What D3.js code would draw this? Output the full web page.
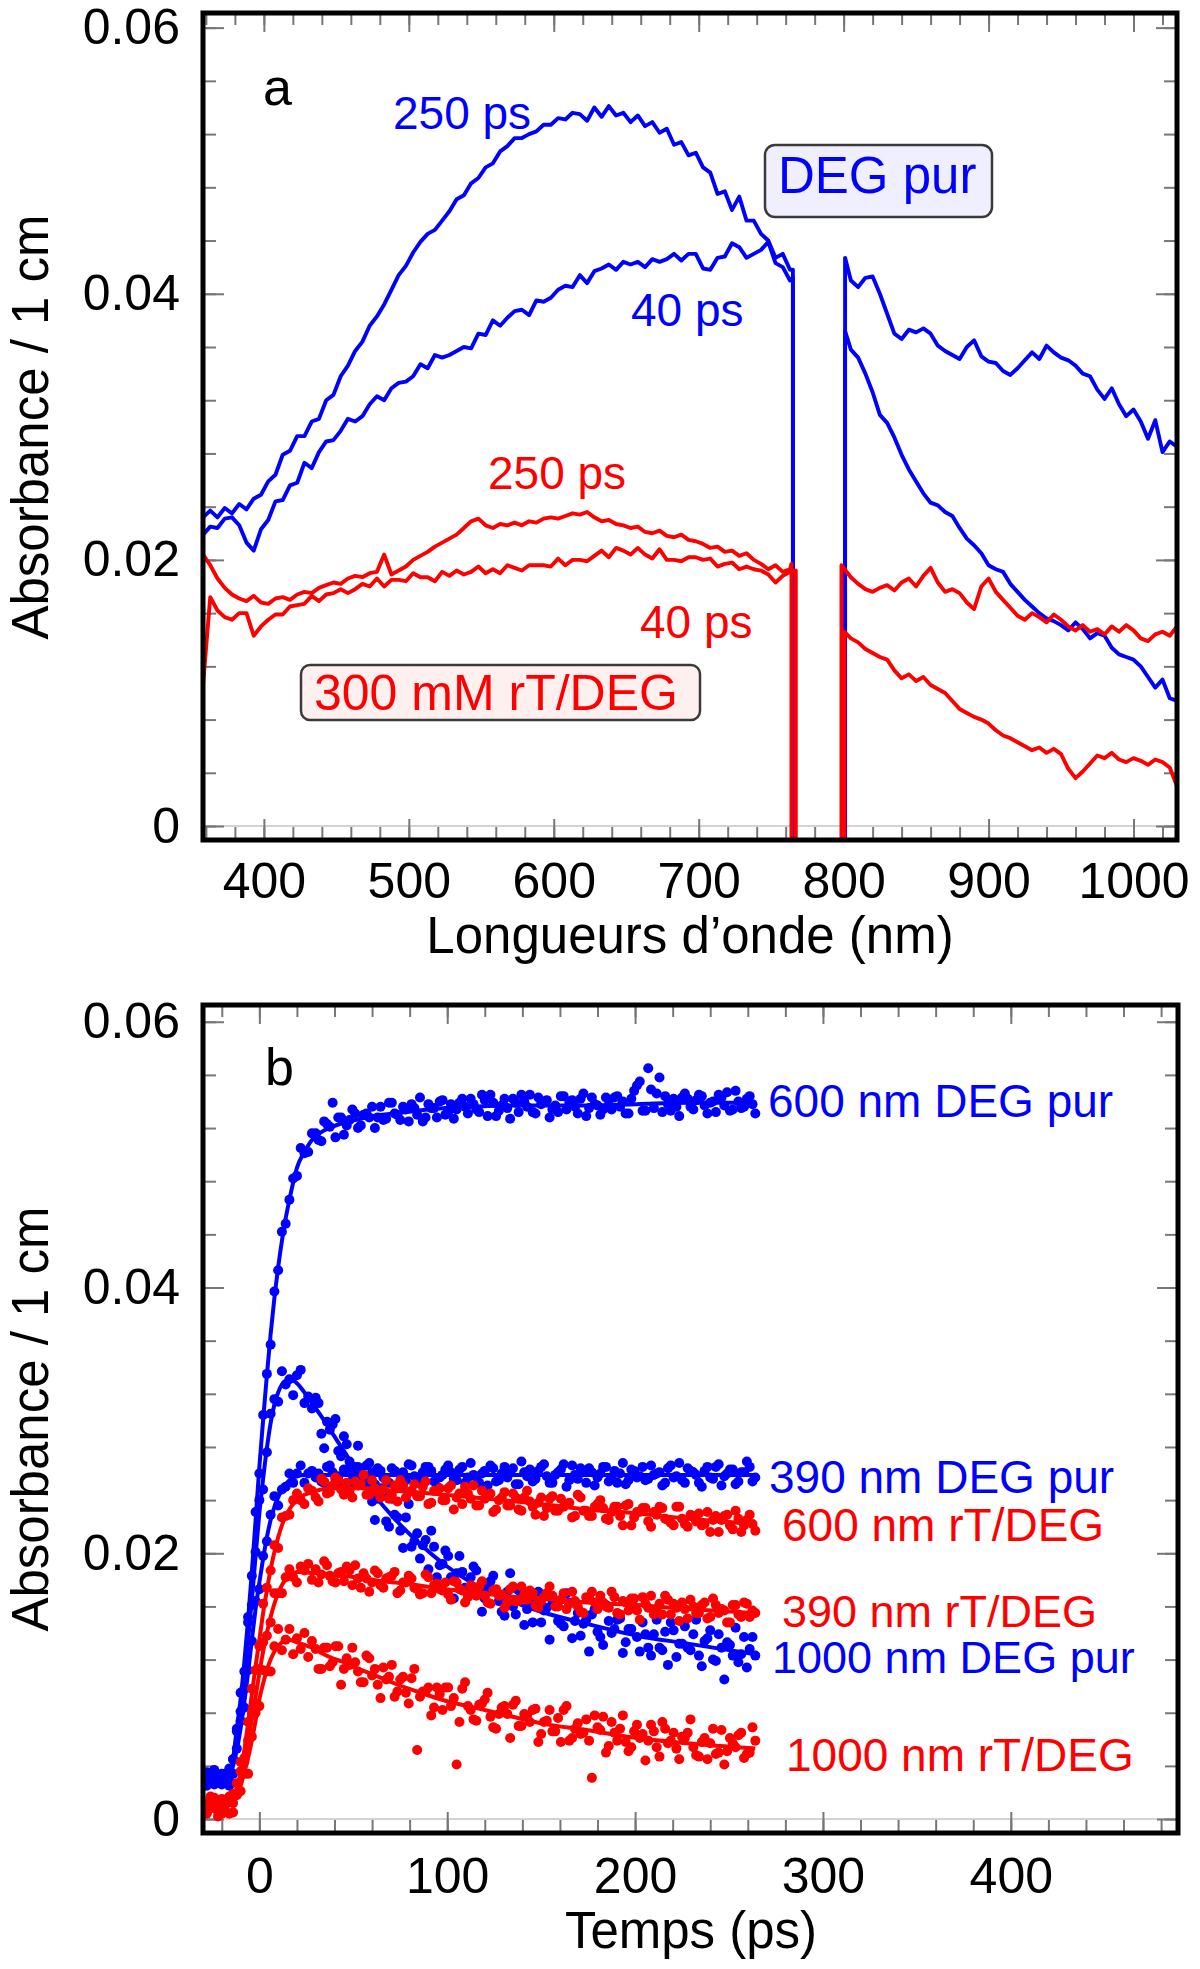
<!DOCTYPE html>
<html><head><meta charset="utf-8">
<script src="https://cdn.jsdelivr.net/npm/d3@7"></script>
<style>
html,body{margin:0;padding:0;background:#fff;}
svg{display:block;}
</style></head><body>
<script>
// ---------------- Panel a : spectra ----------------
const wlGridLeft = [358,363,368,373,378,383,388,393,398,403,408,413,418,423,428,433,438,443,448,453,458,463,468,473,478,483,488,493,498,503,508,513,518,523,528,533,538,543,548,553,558,563,568,573,578,583,588,593,598,603,608,613,618,623,628,633,638,643,648,653,658,663,668,673,678,683,688,693,698,703,708,713,718,723,728,733,738,743,748,753,758,763];
const wlGridRight = [805,810,815,820,825,830,835,840,845,850,855,860,865,870,875,880,885,890,895,900,905,910,915,920,925,930,935,940,945,950,955,960,965,970,975,980,985,990,995,1000,1005,1010,1015,1020,1025,1030];
// wavelengths where each trace leaves / re-enters (detector gap)
const gapBlue = [765, 801];
const gapRed250 = [764, 798.5];
const gapRed40 = [767, 800.5];

const blue250L = [.0232,.0237,.0232,.0239,.0235,.0242,.0238,.0246,.0249,.0259,.0264,.0279,.0282,.0293,.0293,.0304,.0306,.0320,.0324,.0338,.0346,.0357,.0364,.0376,.0383,.0392,.0403,.0414,.0421,.0431,.0439,.0445,.0448,.0455,.0462,.0471,.0474,.0483,.0487,.0495,.0498,.0507,.0511,.0517,.0517,.0520,.0522,.0527,.0527,.0532,.0531,.0536,.0535,.0530,.0540,.0533,.0541,.0534,.0536,.0529,.0534,.0526,.0529,.0521,.0524,.0512,.0514,.0504,.0506,.0495,.0491,.0475,.0477,.0463,.0473,.0455,.0455,.0445,.0440,.0427,.0430,.0418,.0418,-.003];
const blue40L = [.0219,.0225,.0224,.0231,.0232,.0226,.0213,.0207,.0223,.0230,.0244,.0245,.0256,.0258,.0273,.0269,.0281,.0289,.0290,.0297,.0306,.0304,.0308,.0317,.0323,.0320,.0329,.0333,.0334,.0338,.0347,.0344,.0354,.0352,.0354,.0357,.0360,.0359,.0370,.0369,.0380,.0376,.0382,.0387,.0388,.0384,.0395,.0394,.0397,.0403,.0406,.0405,.0414,.0408,.0417,.0419,.0422,.0418,.0424,.0422,.0424,.0420,.0426,.0424,.0426,.0430,.0425,.0430,.0430,.0419,.0418,.0427,.0428,.0438,.0435,.0427,.0430,.0433,.0439,.0423,.0420,.0410,.0412,-.003];
const red250L = [.0204,.0196,.0186,.0179,.0174,.0171,.0169,.0173,.0168,.0167,.0171,.0172,.0170,.0174,.0176,.0175,.0179,.0181,.0183,.0182,.0186,.0188,.0187,.0190,.0191,.0204,.0189,.0192,.0195,.0200,.0203,.0206,.0210,.0213,.0216,.0219,.0224,.0229,.0231,.0226,.0224,.0227,.0226,.0228,.0226,.0229,.0228,.0231,.0232,.0231,.0233,.0235,.0234,.0236,.0232,.0229,.0230,.0227,.0226,.0224,.0225,.0221,.0220,.0222,.0218,.0217,.0219,.0215,.0214,.0212,.0209,.0210,.0206,.0207,.0203,.0205,.0200,.0197,.0193,.0196,.0191,.0193,.0197,-.003];
const red40L = [.0106,.0172,.0162,.0157,.0155,.0160,.0160,.0143,.0150,.0155,.0159,.0159,.0165,.0166,.0167,.0173,.0169,.0174,.0175,.0178,.0175,.0178,.0182,.0180,.0186,.0180,.0185,.0185,.0184,.0190,.0187,.0187,.0184,.0191,.0188,.0192,.0189,.0191,.0195,.0190,.0193,.0190,.0196,.0194,.0192,.0196,.0196,.0196,.0195,.0201,.0196,.0200,.0200,.0199,.0203,.0207,.0202,.0209,.0207,.0204,.0209,.0204,.0201,.0208,.0200,.0200,.0199,.0202,.0202,.0200,.0201,.0195,.0197,.0198,.0193,.0195,.0193,.0192,.0189,.0183,.0188,.0191,.0192,-.003];

const blue250R = [-.003,.0427,.0410,.0405,.0412,.0413,.0400,.0385,.0370,.0366,.0373,.0371,.0374,.0370,.0361,.0357,.0354,.0351,.0360,.0365,.0353,.0349,.0348,.0342,.0339,.0344,.0350,.0356,.0351,.0361,.0356,.0352,.0350,.0346,.0340,.0338,.0328,.0321,.0329,.0317,.0308,.0313,.0304,.0291,.0305,.0281,.0289,.0285];
const blue40R = [-.003,.0372,.0358,.0352,.0340,.0326,.0309,.0303,.0292,.0279,.0268,.0259,.0250,.0243,.0241,.0236,.0233,.0224,.0216,.0211,.0205,.0196,.0193,.0191,.0182,.0176,.0170,.0165,.0160,.0156,.0154,.0151,.0147,.0153,.0148,.0141,.0145,.0143,.0134,.0129,.0127,.0125,.0120,.0112,.0104,.0110,.0096,.0094];
const red250R = [-.003,.0196,.0187,.0182,.0178,.0176,.0179,.0181,.0177,.0183,.0186,.0180,.0188,.0194,.0183,.0176,.0178,.0175,.0168,.0163,.0180,.0186,.0176,.0170,.0164,.0158,.0155,.0160,.0157,.0153,.0159,.0155,.0150,.0147,.0151,.0146,.0148,.0144,.0150,.0146,.0151,.0147,.0141,.0139,.0144,.0146,.0143,.0150];
const red40R = [-.003,.0146,.0141,.0138,.0133,.0130,.0127,.0125,.0117,.0111,.0114,.0109,.0112,.0106,.0103,.0100,.0094,.0088,.0085,.0082,.0080,.0077,.0072,.0068,.0066,.0063,.0060,.0057,.0059,.0055,.0058,.0054,.0043,.0036,.0041,.0047,.0053,.0051,.0055,.0050,.0048,.0051,.0049,.0046,.0050,.0048,.0044,.0030];

const xTicksA = [400,500,600,700,800,900,1000];
const yTicks = [0,0.02,0.04,0.06];
const xTicksB = [0,100,200,300,400];

// ---------------- Panel b : kinetics ----------------
const timePts = [-30,-28,-26,-24,-22,-20,-18,-16,-14,-12,-10,-8,-6,-4,-2,0,2,4,6,8,10,12,14,16,18,20,22,24,26,28,30,33,36,39,42,45,48,51,54,57,60,63,66,69,72,75,78,81,84,87,90,93,96,99,102,105,108,111,114,117,120,123,126,129,132,135,138,141,144,147,150,153,156,159,162,165,168,171,174,177,180,183,186,189,192,195,198,201,204,207,210,213,216,219,222,225,228,231,234,237,240,243,246,249,252,255,258,261,264];
const timePts2 = [31.5,34.5,37.5,40.5,43.5,46.5,49.5,52.5,55.5,58.5,61.5,64.5,67.5,70.5,73.5,76.5,79.5,82.5,85.5,88.5,91.5,94.5,97.5,100.5,103.5,106.5,109.5,112.5,115.5,118.5,121.5,124.5,127.5,130.5,133.5,136.5,139.5,142.5,145.5,148.5,151.5,154.5,157.5,160.5,163.5,166.5,169.5,172.5,175.5,178.5,181.5,184.5,187.5,190.5,193.5,196.5,199.5,202.5,205.5,208.5,211.5,214.5,217.5,220.5,223.5,226.5,229.5,232.5,235.5,238.5,241.5,244.5,247.5,250.5,253.5,256.5,259.5,262.5];

const pts600DEG = [.0032,.0035,.0028,.0037,.0030,.0026,.0033,.0038,.0045,.0068,.0095,.0111,.0152,.0183,.0231,.0260,.0304,.0335,.0357,.0397,.0413,.0442,.0448,.0466,.0482,.0484,.0505,.0501,.0502,.0516,.0516,
.0510,.0523,.0539,.0528,.0515,.0526,.0531,.0522,.0531,.0536,.0528,.0526,.0539,.0531,.0526,.0534,.0538,.0530,.0525,.0538,.0535,.0540,.0530,.0538,.0534,.0542,.0531,.0538,.0532,.0541,.0545,.0529,.0537,.0535,.0542,.0532,.0540,.0545,.0531,.0538,.0541,.0534,.0532,.0544,.0539,.0536,.0542,.0529,.0543,.0537,.0534,.0541,.0543,.0536,.0531,.0542,.0552,.0533,.0565,.0535,.0558,.0544,.0533,.0536,.0543,.0542,.0534,.0545,.0537,.0539,.0532,.0543,.0547,.0534,.0540,.0536,.0544,.0531];
const pts600DEG2 = [.0511,.0525,.0521,.0513,.0528,.0522,.0534,.0520,.0530,.0528,.0520,.0536,.0527,.0539,.0530,.0536,.0525,.0535,.0543,.0528,.0535,.0528,.0541,.0532,.0527,.0539,.0536,.0542,.0534,.0545,.0529,.0539,.0533,.0542,.0527,.0539,.0545,.0536,.0532,.0543,.0540,.0528,.0537,.0544,.0534,.0541,.0531,.0546,.0535,.0538,.0530,.0543,.0534,.0544,.0540,.0531,.0548,.0555,.0533,.0549,.0546,.0532,.0538,.0542,.0529,.0546,.0536,.0541,.0544,.0531,.0540,.0545,.0537,.0533,.0548,.0535,.0542,.0538];
const pts390DEG = [.0028,.0035,.0030,.0026,.0031,.0034,.0028,.0025,.0045,.0053,.0074,.0084,.0112,.0134,.0164,.0173,.0198,.0209,.0229,.0243,.0236,.0248,.0250,.0260,.0253,.0260,.0266,.0253,.0260,.0262,.0257,
.0254,.0265,.0261,.0258,.0263,.0252,.0265,.0259,.0256,.0261,.0264,.0257,.0253,.0262,.0260,.0255,.0266,.0257,.0261,.0265,.0254,.0257,.0263,.0261,.0255,.0265,.0257,.0259,.0253,.0262,.0266,.0254,.0260,.0257,.0264,.0252,.0261,.0263,.0256,.0265,.0258,.0253,.0261,.0267,.0255,.0259,.0264,.0253,.0261,.0257,.0265,.0254,.0262,.0260,.0252,.0263,.0257,.0265,.0256,.0259,.0261,.0253,.0266,.0258,.0255,.0264,.0261,.0253,.0262,.0257,.0265,.0251,.0260,.0263,.0254,.0261,.0265,.0257];
const pts390DEG2 = [.0260,.0253,.0266,.0256,.0251,.0263,.0259,.0265,.0257,.0268,.0252,.0262,.0255,.0264,.0249,.0261,.0267,.0258,.0254,.0265,.0262,.0250,.0259,.0266,.0256,.0263,.0253,.0268,.0257,.0260,.0251,.0264,.0255,.0265,.0261,.0252,.0269,.0258,.0254,.0262,.0267,.0253,.0259,.0263,.0250,.0266,.0256,.0261,.0264,.0251,.0260,.0265,.0257,.0253,.0268,.0255,.0262,.0258,.0255,.0266,.0260,.0251,.0264,.0257,.0268,.0253,.0262,.0259,.0250,.0265,.0256,.0267,.0258,.0263,.0252,.0261,.0269,.0254];
const pts1000DEG = [.0033,.0025,.0034,.0030,.0028,.0032,.0034,.0029,.0034,.0066,.0081,.0098,.0148,.0161,.0201,.0240,.0248,.0276,.0305,.0316,.0314,.0337,.0327,.0331,.0319,.0334,.0338,.0313,.0318,.0309,.0317,
.0290,.0299,.0297,.0277,.0288,.0269,.0254,.0262,.0266,.0239,.0241,.0244,.0220,.0229,.0217,.0227,.0205,.0215,.0206,.0188,.0205,.0191,.0202,.0182,.0185,.0186,.0170,.0190,.0174,.0166,.0179,.0172,.0156,.0171,.0160,.0172,.0146,.0160,.0164,.0148,.0159,.0164,.0149,.0145,.0163,.0149,.0138,.0150,.0154,.0141,.0131,.0149,.0143,.0151,.0133,.0143,.0137,.0148,.0129,.0139,.0129,.0141,.0148,.0122,.0132,.0129,.0139,.0123,.0134,.0142,.0119,.0129,.0133,.0123,.0118,.0137,.0128,.0123];
const pts1000DEG2 = [.0313,.0279,.0293,.0301,.0273,.0282,.0254,.0281,.0251,.0251,.0225,.0249,.0224,.0241,.0227,.0204,.0237,.0209,.0196,.0210,.0217,.0182,.0192,.0198,.0166,.0198,.0174,.0182,.0187,.0156,.0174,.0183,.0164,.0153,.0185,.0154,.0168,.0158,.0148,.0171,.0157,.0135,.0163,.0147,.0170,.0136,.0155,.0147,.0126,.0158,.0137,.0161,.0140,.0150,.0125,.0143,.0160,.0126,.0139,.0123,.0150,.0127,.0116,.0142,.0132,.0145,.0127,.0150,.0115,.0136,.0120,.0139,.0105,.0131,.0144,.0124,.0114,.0137];
const pts600rT = [.0010,.0005,.0012,.0016,.0002,.0008,.0006,.0013,.0012,.0027,.0043,.0046,.0073,.0098,.0112,.0130,.0162,.0174,.0187,.0206,.0204,.0227,.0228,.0229,.0240,.0245,.0240,.0237,.0249,.0247,.0242,
.0256,.0245,.0251,.0255,.0244,.0247,.0254,.0252,.0244,.0255,.0246,.0248,.0241,.0251,.0255,.0242,.0247,.0243,.0250,.0237,.0247,.0249,.0240,.0251,.0242,.0237,.0245,.0251,.0236,.0241,.0245,.0233,.0242,.0236,.0245,.0233,.0242,.0239,.0229,.0242,.0234,.0243,.0232,.0235,.0238,.0228,.0242,.0232,.0228,.0237,.0234,.0225,.0235,.0228,.0236,.0221,.0231,.0234,.0224,.0231,.0235,.0226,.0223,.0235,.0226,.0220,.0228,.0230,.0222,.0216,.0228,.0225,.0229,.0218,.0226,.0221,.0229,.0217];
const pts600rT2 = [.0239,.0254,.0246,.0257,.0248,.0253,.0242,.0251,.0259,.0244,.0249,.0242,.0255,.0244,.0239,.0251,.0246,.0252,.0243,.0254,.0238,.0247,.0240,.0249,.0233,.0245,.0250,.0241,.0236,.0247,.0243,.0231,.0240,.0246,.0236,.0242,.0232,.0247,.0235,.0238,.0228,.0241,.0232,.0241,.0237,.0227,.0244,.0232,.0228,.0235,.0240,.0226,.0231,.0235,.0221,.0237,.0227,.0231,.0234,.0220,.0229,.0234,.0225,.0221,.0235,.0222,.0229,.0224,.0221,.0231,.0225,.0216,.0228,.0221,.0232,.0216,.0225,.0222];
const pts390rT = [.0012,.0004,.0017,.0009,.0006,.0015,.0012,.0004,.0019,.0018,.0036,.0034,.0059,.0080,.0087,.0113,.0133,.0138,.0148,.0170,.0170,.0170,.0182,.0188,.0182,.0178,.0190,.0187,.0192,.0180,.0188,
.0184,.0191,.0179,.0185,.0179,.0187,.0191,.0174,.0181,.0178,.0185,.0174,.0182,.0186,.0172,.0178,.0181,.0173,.0170,.0182,.0176,.0173,.0178,.0165,.0178,.0172,.0167,.0174,.0175,.0168,.0162,.0173,.0169,.0163,.0175,.0164,.0169,.0172,.0161,.0164,.0170,.0168,.0160,.0170,.0162,.0164,.0156,.0167,.0171,.0158,.0163,.0159,.0167,.0154,.0163,.0166,.0157,.0167,.0159,.0154,.0162,.0168,.0154,.0159,.0163,.0151,.0160,.0155,.0163,.0152,.0161,.0158,.0148,.0161,.0154,.0163,.0152,.0155];
const pts390rT2 = [.0178,.0194,.0183,.0178,.0186,.0190,.0176,.0181,.0185,.0171,.0187,.0176,.0181,.0183,.0170,.0178,.0183,.0174,.0169,.0184,.0170,.0177,.0172,.0169,.0179,.0173,.0163,.0176,.0168,.0179,.0163,.0172,.0168,.0159,.0173,.0164,.0175,.0165,.0170,.0159,.0167,.0175,.0160,.0165,.0158,.0171,.0160,.0155,.0167,.0163,.0168,.0160,.0171,.0155,.0164,.0157,.0166,.0150,.0162,.0168,.0158,.0154,.0165,.0162,.0149,.0158,.0165,.0155,.0161,.0151,.0166,.0155,.0157,.0148,.0161,.0152,.0162,.0157];
const pts1000rT = [.0012,.0006,.0016,.0008,.0010,.0004,.0013,.0017,.0005,.0019,.0021,.0043,.0034,.0062,.0080,.0085,.0112,.0111,.0111,.0130,.0143,.0127,.0135,.0143,.0124,.0136,.0128,.0140,.0122,.0134,.0128,
.0113,.0129,.0118,.0130,.0113,.0116,.0118,.0103,.0123,.0108,.0101,.0114,.0107,.0092,.0105,.0095,.0106,.0052,.0096,.0099,.0084,.0094,.0099,.0085,.0041,.0098,.0085,.0075,.0086,.0090,.0077,.0068,.0084,.0079,.0086,.0070,.0079,.0073,.0083,.0064,.0074,.0066,.0076,.0082,.0059,.0068,.0064,.0075,.0031,.0069,.0077,.0055,.0065,.0068,.0058,.0054,.0071,.0064,.0059,.0066,.0047,.0068,.0059,.0053,.0062,.0065,.0054,.0047,.0061,.0057,.0049,.0067,.0051,.0057,.0063,.0046,.0050,.0059];
const pts1000rT2 = [.0113,.0129,.0115,.0130,.0101,.0121,.0129,.0111,.0103,.0121,.0113,.0091,.0105,.0116,.0096,.0107,.0087,.0113,.0092,.0096,.0078,.0099,.0082,.0099,.0091,.0073,.0103,.0082,.0074,.0087,.0095,.0069,.0079,.0085,.0061,.0089,.0070,.0078,.0082,.0058,.0073,.0082,.0066,.0058,.0085,.0061,.0072,.0065,.0059,.0078,.0067,.0050,.0073,.0059,.0078,.0051,.0066,.0061,.0044,.0071,.0054,.0073,.0057,.0065,.0045,.0061,.0075,.0048,.0058,.0045,.0068,.0050,.0041,.0061,.0054,.0065,.0049,.0069];

const fitTimes = [-30,-20,-15,-12,-10,-8,-6,-4,-2,0,2,4,6,8,10,12,14,16,18,20,24,28,33,39,45,51,60,72,84,99,114,129,150,174,201,228,264];
const fit600DEG = [.0030,.0030,.0038,.0068,.0090,.0118,.0150,.0186,.0225,.0265,.0300,.0334,.0365,.0392,.0415,.0435,.0452,.0466,.0479,.0490,.0502,.0511,.0517,.0521,.0524,.0526,.0529,.0531,.0533,.0535,.0536,.0537,.0537,.0537,.0538,.0539,.0539];
const fit390DEG = [.0030,.0030,.0036,.0052,.0068,.0088,.0110,.0135,.0158,.0178,.0196,.0212,.0225,.0235,.0242,.0248,.0252,.0255,.0257,.0258,.0259,.0259,.0259,.0259,.0259,.0259,.0259,.0259,.0259,.0259,.0259,.0259,.0259,.0259,.0259,.0259,.0259];
const fit1000DEG = [.0030,.0030,.0038,.0060,.0080,.0105,.0135,.0165,.0198,.0230,.0256,.0279,.0298,.0312,.0321,.0327,.0330,.0331,.0330,.0328,.0321,.0313,.0303,.0290,.0277,.0264,.0246,.0226,.0209,.0191,.0177,.0167,.0156,.0147,.0138,.0132,.0124];
const fit600rT = [.0008,.0008,.0012,.0024,.0035,.0052,.0072,.0094,.0115,.0135,.0155,.0172,.0188,.0201,.0212,.0221,.0228,.0233,.0237,.0240,.0244,.0246,.0248,.0249,.0249,.0249,.0249,.0247,.0246,.0244,.0242,.0240,.0237,.0233,.0230,.0226,.0222];
const fit390rT = [.0010,.0010,.0012,.0021,.0030,.0043,.0058,.0075,.0092,.0110,.0126,.0140,.0152,.0162,.0170,.0176,.0180,.0183,.0185,.0186,.0186,.0185,.0185,.0184,.0183,.0182,.0180,.0178,.0176,.0173,.0171,.0168,.0166,.0163,.0161,.0158,.0155];
const fit1000rT = [.0010,.0010,.0011,.0018,.0025,.0035,.0046,.0059,.0074,.0090,.0102,.0112,.0120,.0126,.0130,.0133,.0135,.0135,.0134,.0133,.0131,.0129,.0125,.0121,.0118,.0114,.0109,.0102,.0096,.0089,.0084,.0079,.0072,.0067,.0061,.0057,.0053];

// ---------------- drawing ----------------
const FONT = '"Liberation Sans", Arial, Helvetica, sans-serif';
const BLUE = "#0000ff", RED = "#ff0000";
const W = 1200, H = 1969;
const svg = d3.select("body").append("svg").attr("width", W).attr("height", H)
  .attr("font-family", FONT);
svg.append("rect").attr("width", W).attr("height", H).attr("fill", "#fff");

const boxA = {l: 203, r: 1177, t: 13, b: 840};
const boxB = {l: 203, r: 1178, t: 1005, b: 1833};
const xA = d3.scaleLinear().domain([358, 1030]).range([boxA.l, boxA.r]);
const yA = d3.scaleLinear().domain([-0.00105, 0.0611]).range([boxA.b, boxA.t]);
const xB = d3.scaleLinear().domain([-30, 489]).range([boxB.l, boxB.r]);
const yB = d3.scaleLinear().domain([-0.00105, 0.06126]).range([boxB.b, boxB.t]);

const yMinor = d3.range(0, 0.0601, 0.004);
const fmtY = d => d === 0 ? "0" : d.toFixed(2);

function axesUnder(box, x, y, xMajor, xMinor) {
  const g = svg.append("g");
  g.append("line").attr("x1", box.l).attr("x2", box.r).attr("y1", y(0)).attr("y2", y(0))
    .attr("stroke", "#c4c4c4").attr("stroke-width", 1.5);
  const defs = [
    [d3.axisBottom(x).tickValues(xMinor).tickSize(-13), `translate(0,${box.b})`],
    [d3.axisBottom(x).tickValues(xMajor).tickSize(-21), `translate(0,${box.b})`],
    [d3.axisTop(x).tickValues(xMinor).tickSize(-12), `translate(0,${box.t})`],
    [d3.axisTop(x).tickValues(xMajor).tickSize(-19), `translate(0,${box.t})`],
    [d3.axisLeft(y).tickValues(yMinor).tickSize(-13), `translate(${box.l},0)`],
    [d3.axisLeft(y).tickValues(yTicks).tickSize(-21), `translate(${box.l},0)`],
    [d3.axisRight(y).tickValues(yMinor).tickSize(-13), `translate(${box.r},0)`],
    [d3.axisRight(y).tickValues(yTicks).tickSize(-21), `translate(${box.r},0)`]
  ];
  defs.forEach(([ax, tr]) => {
    const a = g.append("g").attr("transform", tr).call(ax.tickFormat("").tickSizeOuter(0));
    a.select(".domain").remove();
    a.selectAll(".tick line").attr("stroke", "#777").attr("stroke-width", 2);
  });
}

function axesOver(box, x, y, xMajor, padX) {
  const g = svg.append("g");
  g.append("rect").attr("x", box.l).attr("y", box.t).attr("width", box.r - box.l).attr("height", box.b - box.t)
    .attr("fill", "none").attr("stroke", "#000").attr("stroke-width", 5);
  const bx = g.append("g").attr("transform", `translate(0,${box.b})`)
    .call(d3.axisBottom(x).tickValues(xMajor).tickSize(0).tickPadding(padX).tickFormat(d3.format("d")));
  bx.select(".domain").remove();
  bx.attr("font-size", 50).attr("font-family", FONT);
  bx.selectAll("text").attr("fill", "#000");
  const ly = g.append("g").attr("transform", `translate(${box.l},0)`)
    .call(d3.axisLeft(y).tickValues(yTicks).tickSize(0).tickPadding(23).tickFormat(fmtY));
  ly.select(".domain").remove();
  ly.attr("font-size", 50).attr("font-family", FONT);
  ly.selectAll("text").attr("fill", "#000");
}

function clip(id, box) {
  svg.append("clipPath").attr("id", id).append("rect")
    .attr("x", box.l).attr("y", box.t).attr("width", box.r - box.l).attr("height", box.b - box.t);
}

function text(str, x, y, size, color, anchor) {
  return svg.append("text").attr("x", x).attr("y", y).attr("font-size", size)
    .attr("fill", color).attr("text-anchor", anchor || "start").text(str);
}

// ----- Panel a -----
clip("clipA", boxA);
axesUnder(boxA, xA, yA, xTicksA, d3.range(360, 1030, 20));
const gA = svg.append("g").attr("clip-path", "url(#clipA)");
const lineA = d3.line().x(d => xA(d[0])).y(d => yA(d[1]));
const seriesA = [
  [blue250L, blue250R, gapBlue, BLUE], [blue40L, blue40R, gapBlue, BLUE],
  [red250L, red250R, gapRed250, RED], [red40L, red40R, gapRed40, RED]
];
seriesA.forEach(([vl, vr, gap, col]) => {
  const wlL = wlGridLeft.concat([gap[0], gap[0]]);
  const wlR = [gap[1], gap[1]].concat(wlGridRight);
  [[wlL, vl], [wlR, vr]].forEach(([wl, vals]) => {
    gA.append("path").datum(wl.map((w, i) => [w, vals[i]]))
      .attr("d", lineA).attr("fill", "none").attr("stroke", col)
      .attr("stroke-width", 3.9).attr("stroke-linejoin", "round");
  });
});
axesOver(boxA, xA, yA, xTicksA, 22.5);

// Panel a annotations
text("a", 263, 105, 52, "#000");
text("250 ps", 393, 129, 46, BLUE);
text("40 ps", 631, 326, 46, BLUE);
text("250 ps", 488, 489, 46, RED);
text("40 ps", 640, 638, 46, RED);
svg.append("rect").attr("x", 765).attr("y", 145).attr("width", 227).attr("height", 72).attr("rx", 10)
  .attr("fill", "#efefff").attr("stroke", "#3a3a3a").attr("stroke-width", 2.5);
text("DEG pur", 778, 193, 51, BLUE);
svg.append("rect").attr("x", 301).attr("y", 665).attr("width", 399).attr("height", 55).attr("rx", 9)
  .attr("fill", "#fff0f0").attr("stroke", "#3a3a3a").attr("stroke-width", 2.5);
text("300 mM rT/DEG", 314, 710, 50, RED);
text("Longueurs d\u2019onde (nm)", 690, 953, 51, "#000", "middle");
svg.append("text").attr("transform", "translate(48,427) rotate(-90)").attr("text-anchor", "middle")
  .attr("font-size", 51).attr("fill", "#000").text("Absorbance / 1 cm");

// ----- Panel b -----
clip("clipB", boxB);
axesUnder(boxB, xB, yB, xTicksB, d3.range(-20, 489, 20));
const gB = svg.append("g").attr("clip-path", "url(#clipB)");
const fitLine = d3.line().x(d => xB(d[0])).y(d => yB(d[1])).curve(d3.curveMonotoneX);
const seriesB = [
  [pts600DEG, pts600DEG2, fit600DEG, BLUE], [pts390DEG, pts390DEG2, fit390DEG, BLUE], [pts1000DEG, pts1000DEG2, fit1000DEG, BLUE],
  [pts600rT, pts600rT2, fit600rT, RED], [pts390rT, pts390rT2, fit390rT, RED], [pts1000rT, pts1000rT2, fit1000rT, RED]
];
seriesB.forEach(([pts, pts2, fit, col]) => {
  const g = gB.append("g");
  const data = timePts.map((t, i) => [t, pts[i]]).concat(timePts2.map((t, i) => [t, pts2[i]]));
  g.selectAll("circle").data(data).join("circle")
    .attr("cx", d => xB(d[0])).attr("cy", d => yB(d[1])).attr("r", 5).attr("fill", col);
  g.append("path").datum(fitTimes.map((t, i) => [t, fit[i]]))
    .attr("d", fitLine).attr("fill", "none").attr("stroke", col).attr("stroke-width", 4);
});
axesOver(boxB, xB, yB, xTicksB, 24.5);

text("b", 265, 1085, 52, "#000");
text("600 nm DEG pur", 768, 1117, 46, BLUE);
text("390 nm DEG pur", 769, 1493, 46, BLUE);
text("600 nm rT/DEG", 782, 1541, 46, RED);
text("390 nm rT/DEG", 782, 1627, 45, RED);
text("1000 nm DEG pur", 772, 1673, 45, BLUE);
text("1000 nm rT/DEG", 786, 1771, 46, RED);
text("Temps (ps)", 691, 1948, 51, "#000", "middle");
svg.append("text").attr("transform", "translate(48,1419) rotate(-90)").attr("text-anchor", "middle")
  .attr("font-size", 51).attr("fill", "#000").text("Absorbance / 1 cm");
</script>
</body></html>
